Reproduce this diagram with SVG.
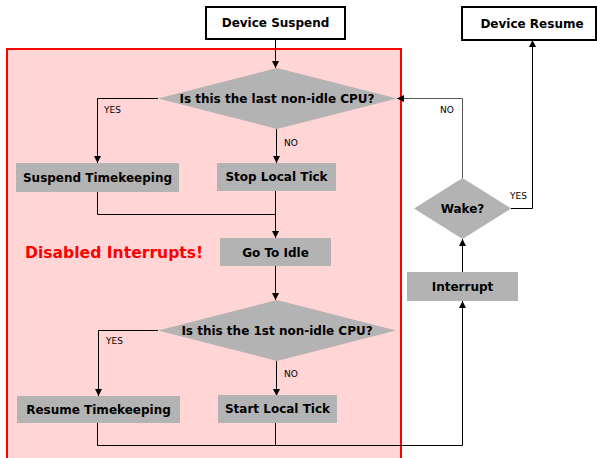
<svg xmlns="http://www.w3.org/2000/svg" width="597" height="458" viewBox="0 0 597 458">
<style>
.box{fill:#b3b3b3;stroke:none}
.wbox{fill:#fff;stroke:#000;stroke-width:2}
.t{font-family:"DejaVu Sans",sans-serif;font-weight:bold;font-size:12px;text-anchor:middle;fill:#000}
.l{font-family:"DejaVu Sans",sans-serif;font-size:9px;fill:#000}
.c{fill:none;stroke:#000;stroke-width:1}
.cg{fill:none;stroke:#555;stroke-width:1}
</style>
<defs>
<marker id="ah" viewBox="0 0 10 10" refX="10" refY="5" markerWidth="7" markerHeight="7" markerUnits="userSpaceOnUse" orient="auto">
<path d="M0,0 L10,5 L0,10 Z" fill="#000"/>
</marker>
</defs>
<rect id="region" x="7" y="49" width="394" height="420" fill="#ffd5d5" stroke="#ff0000" stroke-width="2"/>
<text id="disabled" x="25" y="258" font-family="DejaVu Sans,sans-serif" font-weight="bold" font-size="15.6px" fill="#ff0000">Disabled Interrupts!</text>
<g id="connectors">
<path class="c" d="M275.5,39 V68" marker-end="url(#ah)"/>
<path class="c" d="M158,98.5 H97.5 V163" marker-end="url(#ah)"/>
<path class="c" d="M276.5,129 V163" marker-end="url(#ah)"/>
<path class="c" d="M97.5,192 V214.5 H275.5"/>
<path class="c" d="M275.5,191 V238" marker-end="url(#ah)"/>
<path class="c" d="M275.5,266 V300" marker-end="url(#ah)"/>
<path class="c" d="M158,330.5 H98.5 V396" marker-end="url(#ah)"/>
<path class="c" d="M276.5,361 V396" marker-end="url(#ah)"/>
<path class="c" d="M97.5,423 V445.5 H462.5 V301" marker-end="url(#ah)"/>
<path class="c" d="M275.5,423 V445.5"/>
<path class="c" d="M462.5,272 V239" marker-end="url(#ah)"/>
<path class="cg" d="M462.5,178 V98.5 H397" marker-end="url(#ah)"/>
<path class="c" d="M511,208.5 H532.5 V40" marker-end="url(#ah)"/>
<text class="l" x="104" y="113">YES</text>
<text class="l" x="284" y="146">NO</text>
<text class="l" x="106" y="344">YES</text>
<text class="l" x="284" y="377">NO</text>
<text class="l" x="440" y="113">NO</text>
<text class="l" x="510" y="199">YES</text>
</g>
<g id="device-suspend"><rect class="wbox" x="206" y="7" width="139" height="32"/><text class="t" x="275.5" y="27">Device Suspend</text></g>
<g id="device-resume"><rect class="wbox" x="462" y="7" width="134" height="33"/><text class="t" x="532" y="28">Device Resume</text></g>
<g id="q-last"><polygon class="box" points="277,68 397,98.5 277,129 158,98.5"/><text class="t" x="277" y="103">Is this the last non-idle CPU?</text></g>
<g id="suspend-tk"><rect class="box" x="16" y="163" width="163" height="29"/><text class="t" x="97.5" y="182">Suspend Timekeeping</text></g>
<g id="stop-tick"><rect class="box" x="217" y="163" width="119" height="28"/><text class="t" x="276.5" y="181">Stop Local Tick</text></g>
<g id="go-idle"><rect class="box" x="220" y="238" width="111" height="28"/><text class="t" x="275.5" y="257">Go To Idle</text></g>
<g id="q-first"><polygon class="box" points="277,300 396,330.5 277,361 158,330.5"/><text class="t" x="277" y="335">Is this the 1st non-idle CPU?</text></g>
<g id="resume-tk"><rect class="box" x="17" y="396" width="163" height="27"/><text class="t" x="98.5" y="414">Resume Timekeeping</text></g>
<g id="start-tick"><rect class="box" x="218" y="395" width="119" height="28"/><text class="t" x="277.5" y="413">Start Local Tick</text></g>
<g id="interrupt"><rect class="box" x="407" y="272" width="111" height="29"/><text class="t" x="462.5" y="291">Interrupt</text></g>
<g id="wake"><polygon class="box" points="462.5,178 511,208.5 462.5,239 414,208.5"/><text class="t" x="462.5" y="213">Wake?</text></g>
</svg>
